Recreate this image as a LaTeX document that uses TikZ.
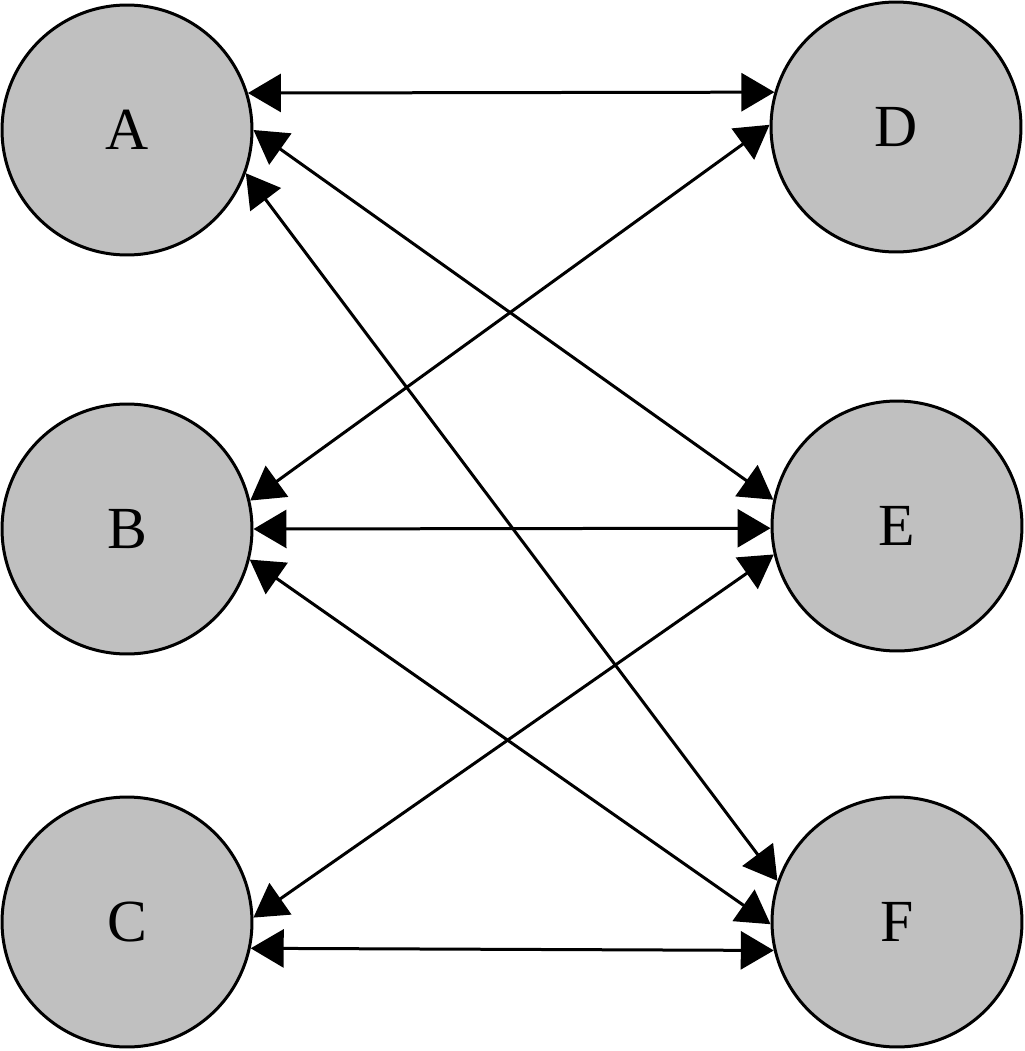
\documentclass[tikz,border=0pt]{standalone}
\usepackage{fontspec}
\setmainfont{Liberation Serif}
\usetikzlibrary{arrows.meta}
\definecolor{nodegray}{RGB}{192,192,192}
\begin{document}
\begin{tikzpicture}[x=0.02cm,y=-0.02cm,
  vertex/.style={circle, draw=black, fill=nodegray, line width=0.06cm,
    minimum size=5cm, inner sep=0pt, font=\fontsize{34}{40}\selectfont},
  link/.style={line width=0.06cm,
    {Triangle[length=0.66cm,width=0.76cm]}-{Triangle[length=0.66cm,width=0.76cm]}}]
\useasboundingbox (0,0) rectangle (1024,1051);

\node[vertex] (A) at (127,130) {A};
\node[vertex] (B) at (127,529) {B};
\node[vertex] (C) at (127,922) {C};
\node[vertex] (D) at (896,127) {D};
\node[vertex] (E) at (897,526) {E};
\node[vertex] (F) at (897,922) {F};

\draw[link] (A.17.4) -- (D.164.2);
\draw[link] (A.-0.9) -- (E.168);
\draw[link] (A.-20.9) -- (F.161.4);
\draw[link] (B.13) -- (D.179);
\draw[link] (B.0) -- (E.181);
\draw[link] (B.-14.1) -- (F.181.4);
\draw[link] (C.2.3) -- (E.193.7);
\draw[link] (C.-12.8) -- (F.193.6);
\end{tikzpicture}
\end{document}
